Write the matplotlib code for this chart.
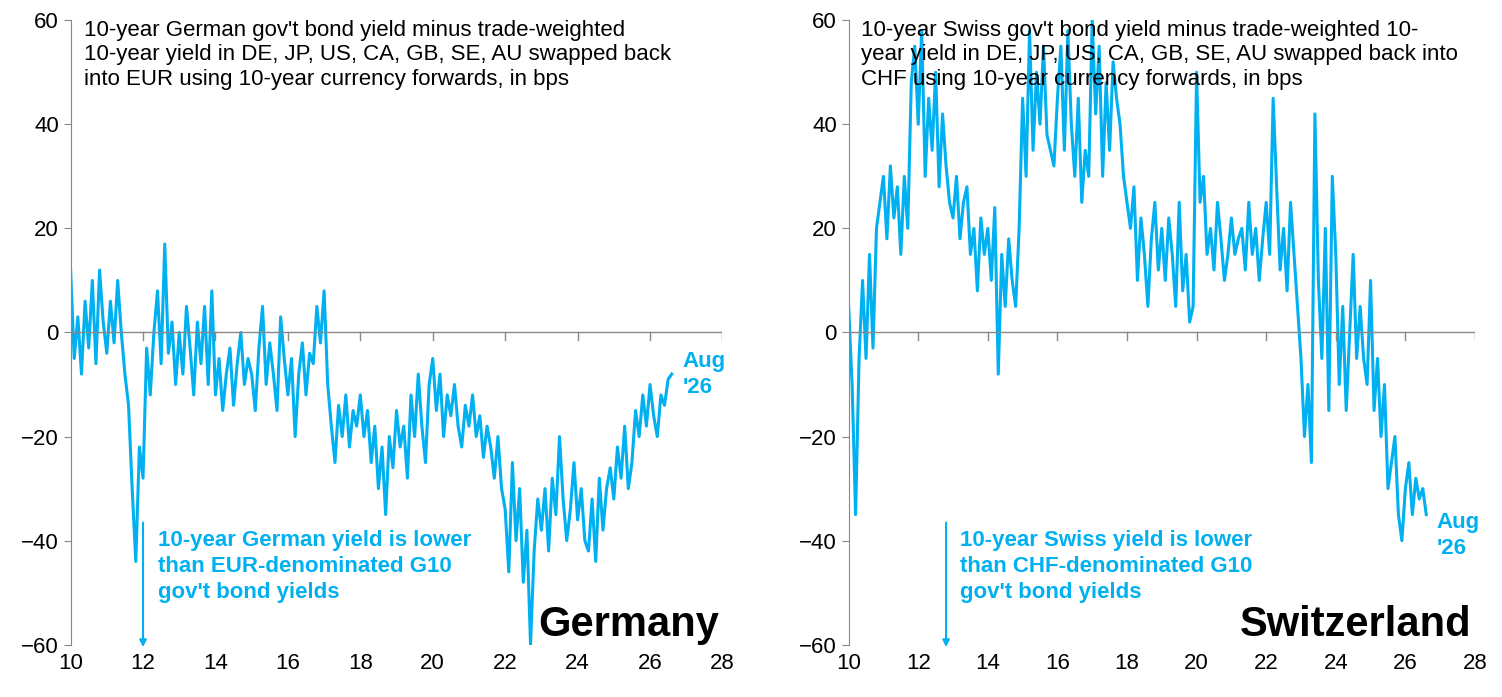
import numpy as np
import matplotlib
matplotlib.use("Agg")
import matplotlib.pyplot as plt

plt.rcParams['font.family'] = ['Liberation Sans', 'DejaVu Sans']
BLUE = '#00B0F0'

germany = [12,-5,3,-8,6,-3,10,-6,12,2,
 -4,6,-2,10,0,-8,-14,-30,-44,-22,
 -28,-3,-12,0,8,-6,17,-4,2,-10,
 0,-8,5,-3,-12,2,-6,5,-10,8,
 -12,-5,-15,-8,-3,-14,-6,0,-10,-5,
 -8,-15,-3,5,-10,-2,-8,-15,3,-5,
 -12,-5,-20,-8,-2,-12,-4,-6,5,-2,
 8,-10,-18,-25,-14,-20,-12,-22,-15,-18,
 -12,-20,-15,-25,-18,-30,-22,-35,-20,-26,
 -15,-22,-18,-28,-12,-20,-8,-18,-25,-10,
 -5,-15,-8,-20,-12,-16,-10,-18,-22,-14,
 -18,-12,-20,-16,-24,-18,-22,-28,-20,-30,
 -34,-46,-25,-40,-30,-48,-38,-60,-42,-32,
 -38,-30,-42,-28,-35,-20,-32,-40,-34,-25,
 -36,-30,-40,-42,-32,-44,-28,-38,-30,-26,
 -32,-22,-28,-18,-30,-25,-15,-20,-12,-18,
 -10,-16,-20,-12,-14,-9,-8]
switzerland = [5,-10,-35,-5,10,-5,15,-3,20,25,
 30,18,32,22,28,15,30,20,48,55,
 40,58,30,45,35,50,28,42,32,25,
 22,30,18,25,28,15,20,8,22,15,
 20,10,24,-8,15,5,18,10,5,20,
 45,30,58,35,50,40,55,38,35,32,
 45,55,35,58,40,30,45,25,35,30,
 60,42,55,30,48,35,52,45,40,30,
 25,20,28,10,22,15,5,18,25,12,
 20,10,22,15,5,25,8,15,2,5,
 50,25,30,15,20,12,25,18,10,15,
 22,15,18,20,12,25,15,20,10,18,
 25,15,45,28,12,20,8,25,15,5,
 -5,-20,-10,-25,42,10,-5,20,-15,30,
 15,-10,5,-15,0,15,-5,5,-5,-10,
 10,-15,-5,-20,-10,-30,-25,-20,-35,-40,
 -30,-25,-35,-28,-32,-30,-35]
years = 10 + np.arange(len(germany)) / 10.0
xticks = list(range(10, 29, 2))
yticks = [-60, -40, -20, 0, 20, 40, 60]

panels = [
    (germany, [0.047, 0.075, 0.434, 0.896],
     "10-year German gov't bond yield minus trade-weighted\n10-year yield in DE, JP, US, CA, GB, SE, AU swapped back\ninto EUR using 10-year currency forwards, in bps",
     "10-year German yield is lower\nthan EUR-denominated G10\ngov't bond yields", "Germany", 12.0, (26.9, -8)),
    (switzerland, [0.565, 0.075, 0.417, 0.896],
     "10-year Swiss gov't bond yield minus trade-weighted 10-\nyear yield in DE, JP, US, CA, GB, SE, AU swapped back into\nCHF using 10-year currency forwards, in bps",
     "10-year Swiss yield is lower\nthan CHF-denominated G10\ngov't bond yields", "Switzerland", 12.8, (26.9, -39)),
]

fig = plt.figure(figsize=(15.02, 6.97), dpi=100)
for vals, rect, title, note, name, arx, aug in panels:
    ax = fig.add_axes(rect)
    ax.plot(years, vals, color=BLUE, lw=2.2)
    ax.set_xlim(10, 28)
    ax.set_ylim(-60, 60)
    ax.set_yticks(yticks)
    ax.set_xticks(xticks)
    ax.set_xticklabels([str(t) for t in xticks])
    ax.tick_params(axis='x', length=0, labelsize=16, pad=6)
    ax.tick_params(axis='y', labelsize=16, direction='out', length=5, color='#888888')
    for s in ['top', 'right', 'bottom']:
        ax.spines[s].set_visible(False)
    ax.spines['left'].set_color('#888888')
    ax.axhline(0, color='#888888', lw=1)
    for t in xticks:
        ax.plot([t, t], [0, -1.5], color='#888888', lw=1)
    ax.text(0.02, 1.0, title, transform=ax.transAxes, va='top', ha='left', fontsize=16, linespacing=1.2)
    ax.annotate('', xy=(arx, -61), xytext=(arx, -36),
                arrowprops=dict(arrowstyle='-|>', color=BLUE, lw=1.5), annotation_clip=False)
    ax.text(arx + 0.4, -38, note, color=BLUE, fontsize=16, fontweight='bold', va='top', linespacing=1.3)
    ax.text(0.995, 0.0, name, transform=ax.transAxes, ha='right', va='bottom', fontsize=30, fontweight='bold')
    ax.text(aug[0], aug[1], "Aug\n'26", color=BLUE, fontsize=16, fontweight='bold', va='center', linespacing=1.3)

fig.savefig('out.png', dpi=100)
